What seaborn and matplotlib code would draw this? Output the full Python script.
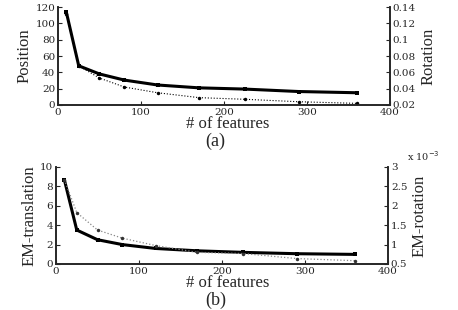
import matplotlib
matplotlib.use("Agg")
import matplotlib.pyplot as plt
import seaborn as sns
import pandas as pd

sns.set_style("ticks")
plt.rcParams['font.family'] = ['Liberation Serif', 'DejaVu Serif']

features = [10, 25, 50, 80, 120, 170, 225, 290, 360]
position = [114, 48, 38, 30.5, 24.5, 21, 19.5, 16.5, 15]
rotation = [0.132, 0.068, 0.053, 0.042, 0.035, 0.029, 0.027, 0.024, 0.022]
em_translation = [8.7, 3.5, 2.5, 2.0, 1.6, 1.36, 1.2, 1.06, 0.99]
em_rotation = [2.675, 1.825, 1.375, 1.165, 0.975, 0.80, 0.77, 0.64, 0.585]  # x 10^-3

dfa = pd.DataFrame({"f": features, "pos": position, "rot": rotation})
dfb = pd.DataFrame({"f": features, "tr": em_translation, "rot": em_rotation})

fig = plt.figure(figsize=(4.58, 3.10), dpi=100)

def style(ax, twin):
    ax.spines['top'].set_visible(False)
    twin.spines['top'].set_visible(False)
    for a in (ax, twin):
        a.tick_params(direction='in', length=3, width=0.8, labelsize=7.5, pad=2)
        for s in a.spines.values():
            s.set_linewidth(1.2)
        for lab in a.get_xticklabels() + a.get_yticklabels():
            lab.set_family(['DejaVu Serif'])
    ax.set_xlim(0, 400)

# (a)
ax1 = fig.add_axes([0.1266, 0.6613, 0.725, 0.316])
tw1 = ax1.twinx()
sns.lineplot(data=dfa, x="f", y="pos", ax=ax1, color="black", linewidth=2.2,
             marker="s", markersize=3, markeredgewidth=0)
sns.lineplot(data=dfa, x="f", y="rot", ax=tw1, color="black", linewidth=0.8,
             linestyle=":", marker="o", markersize=2.5, markeredgewidth=0)
ax1.set_xlim(0, 400)
ax1.set_xticks([0, 100, 200, 300, 400])
ax1.set_ylim(0, 120)
ax1.set_yticks(range(0, 121, 20))
tw1.set_ylim(0.02, 0.14)
tw1.set_yticks([0.02, 0.04, 0.06, 0.08, 0.1, 0.12, 0.14])
tw1.set_yticklabels(["0.02", "0.04", "0.06", "0.08", "0.1", "0.12", "0.14"])
style(ax1, tw1)
ax1.set_xlabel("")
ax1.set_ylabel("Position", fontsize=12, labelpad=2)
tw1.set_ylabel("Rotation", fontsize=12, labelpad=3)
fig.text(0.497, 0.60, "# of features", ha="center", va="center", fontsize=12)
fig.text(0.47, 0.545, "(a)", ha="center", va="center", fontsize=13)

# (b)
ax2 = fig.add_axes([0.1223, 0.1484, 0.725, 0.313])
tw2 = ax2.twinx()
sns.lineplot(data=dfb, x="f", y="tr", ax=ax2, color="black", linewidth=2.2,
             marker="s", markersize=3, markeredgewidth=0)
sns.lineplot(data=dfb, x="f", y="rot", ax=tw2, color="#888888", linewidth=0.9,
             linestyle=":", marker="o", markersize=2.5, markeredgewidth=0,
             markerfacecolor="#333333")
ax2.set_xlim(0, 400)
ax2.set_xticks([0, 100, 200, 300, 400])
ax2.set_ylim(0, 10)
ax2.set_yticks(range(0, 11, 2))
tw2.set_ylim(0.5, 3)
tw2.set_yticks([0.5, 1, 1.5, 2, 2.5, 3])
tw2.set_yticklabels(["0.5", "1", "1.5", "2", "2.5", "3"])
style(ax2, tw2)
ax2.set_xlabel("")
ax2.set_ylabel("EM-translation", fontsize=12, labelpad=2)
tw2.set_ylabel("EM-rotation", fontsize=12, labelpad=3)
fig.text(0.925, 0.495, r"x 10$^{-3}$", ha="center", va="center", fontsize=7,
         family=['DejaVu Serif'])
fig.text(0.497, 0.087, "# of features", ha="center", va="center", fontsize=12)
fig.text(0.47, 0.032, "(b)", ha="center", va="center", fontsize=13)

fig.savefig("out.png", dpi=100)
